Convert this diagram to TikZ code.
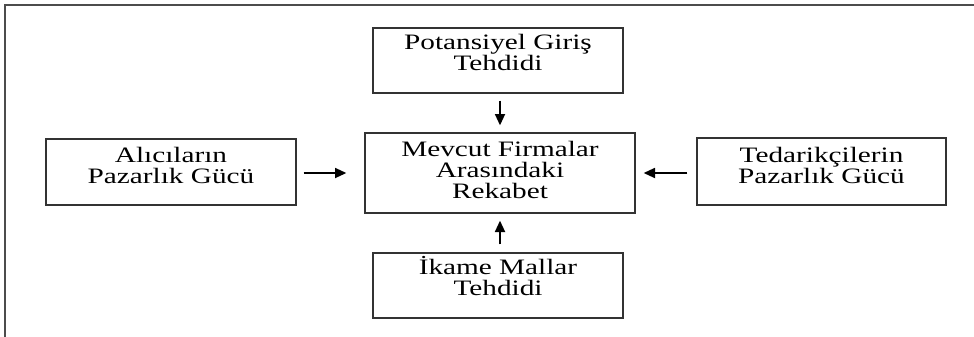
\documentclass[tikz,border=0pt]{standalone}
\usepackage{fontspec}
\setmainfont{Liberation Serif}[FakeStretch=1.33]
\usetikzlibrary{arrows.meta}
\tikzset{
  boxnode/.style={draw=black!80, line width=1pt, inner sep=0pt, rectangle},
  txtnode/.style={inner sep=0pt, align=center, anchor=north, text=black,
    font=\fontsize{16.5pt}{15.75pt}\selectfont},
  arr/.style={line width=1.3pt, -{Triangle[length=8.5pt,width=7.5pt]}},
  framestyle/.style={draw=black!70, line width=1.8pt}
}
\begin{document}
\begin{tikzpicture}[x=0.75pt,y=-0.75pt]
\useasboundingbox (0,0) rectangle (974,336);
\clip (0,0) rectangle (974,336);
\fill[white] (0,0) rectangle (974,336);
\draw[framestyle] (5,5) rectangle (1000,360);

% boxes
\node[boxnode, minimum width=187.5pt, minimum height=48.75pt] (top) at (498,60.5) {};
\node[boxnode, minimum width=202.5pt, minimum height=60pt] (mid) at (500,173) {};
\node[boxnode, minimum width=187.5pt, minimum height=49.5pt] (left) at (171,172) {};
\node[boxnode, minimum width=186.75pt, minimum height=50.25pt] (right) at (821.5,171.5) {};
\node[boxnode, minimum width=187.5pt, minimum height=48.75pt] (bot) at (498,285.5) {};

% texts
\node[txtnode] (toptxt) at (498,34) {Potansiyel Giriş\\Tehdidi};
\node[txtnode] (midtxt) at (500,141) {Mevcut Firmalar\\Arasındaki\\Rekabet};
\node[txtnode] (lefttxt) at (171,147) {Alıcıların\\Pazarlık Gücü};
\node[txtnode] (righttxt) at (821.5,146.5) {Tedarikçilerin\\Pazarlık Gücü};
\node[txtnode] (bottxt) at (498,256) {İkame Mallar\\Tehdidi};

% arrows
\draw[arr, shorten <=5.25pt, shorten >=5.25pt] (top.south -| mid.north) -- (mid.north);
\draw[arr, shorten <=6pt, shorten >=5.25pt] (bot.north -| mid.south) -- (mid.south);
\draw[arr, shorten <=5.25pt, shorten >=13.5pt] (left.east |- mid.west) -- (mid.west);
\draw[arr, shorten <=6.75pt, shorten >=6pt] (right.west |- mid.east) -- (mid.east);
\end{tikzpicture}
\end{document}
